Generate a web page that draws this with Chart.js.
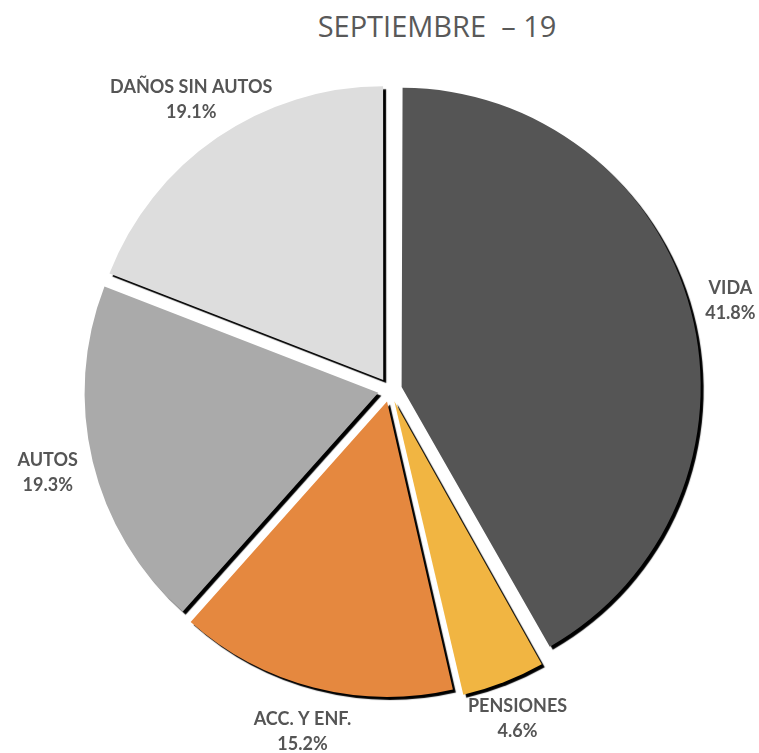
<!DOCTYPE html>
<html>
<head>
<meta charset="utf-8">
<script src="https://cdn.jsdelivr.net/npm/chart.js@4/dist/chart.umd.min.js"></script>
<style>
  html, body { margin: 0; padding: 0; background: #fff; overflow: hidden; }
  #wrap { position: relative; width: 759px; height: 753px; }
  #titulo {
    position: absolute; top: 6px; left: 437px; transform: translateX(-50%);
    font-family: "Open Sans", sans-serif; font-size: 29px; color: #595959;
    white-space: pre;
  }
  canvas { position: absolute; left: 0; top: 0; }
</style>
</head>
<body>
<div id="wrap">
  <div id="titulo">SEPTIEMBRE  – 19</div>
  <canvas id="pieChart" width="759" height="753"></canvas>
</div>
<script>
// Ramos (en el sentido de las agujas del reloj desde arriba)
const ramos = ['VIDA', 'PENSIONES', 'ACC. Y ENF.', 'AUTOS', 'DAÑOS SIN AUTOS'];
const porcentajes = [41.8, 4.6, 15.2, 19.3, 19.1];
const colores = ['#555555', '#F1B542', '#E5883F', '#AAAAAA', '#DDDDDD'];

// sombra negra debajo de cada rebanada
const sombraPlugin = {
    id: 'sombra',
    beforeDatasetsDraw(chart) {
        const c = chart.ctx;
        c.save();
        c.shadowColor = 'rgba(0,0,0,1)';
        c.shadowOffsetX = 3;
        c.shadowOffsetY = 3;
        c.shadowBlur = 1;
    },
    afterDatasetsDraw(chart) {
        chart.ctx.restore();
    }
};

// etiquetas fuera del pastel
const etiquetasPlugin = {
    id: 'etiquetas',
    afterDraw(chart) {
        const c = chart.ctx;
        const meta = chart.getDatasetMeta(0);
        c.save();
        c.fillStyle = '#555555';
        c.textAlign = 'center';
        c.textBaseline = 'middle';
        c.font = 'bold 18px Lato, sans-serif';
        meta.data.forEach((arc, i) => {
            const p = arc.getProps(['x', 'y', 'startAngle', 'endAngle', 'outerRadius'], true);
            const medio = (p.startAngle + p.endAngle) / 2;
            const r = p.outerRadius + 59;
            const x = p.x + Math.cos(medio) * r;
            const y = p.y + Math.sin(medio) * r;
            c.fillText(ramos[i], x, y - 12);
            c.fillText(porcentajes[i].toFixed(1) + '%', x, y + 13);
        });
        c.restore();
    }
};

const ctx = document.getElementById('pieChart').getContext('2d');
new Chart(ctx, {
    type: 'pie',
    data: {
        labels: ramos,
        datasets: [{
            data: porcentajes,
            backgroundColor: colores,
            borderWidth: 0,
            offset: 48 // Chart.js dibuja offset/4 -> 12px
        }]
    },
    options: {
        responsive: false,
        animation: false,
        radius: 293,
        layout: {
            padding: { left: 21, top: 27, right: 0, bottom: 0 }
        },
        plugins: {
            legend: { display: false },
            tooltip: { enabled: false },
            title: { display: false }
        }
    },
    plugins: [sombraPlugin, etiquetasPlugin]
});
</script>
</body>
</html>
